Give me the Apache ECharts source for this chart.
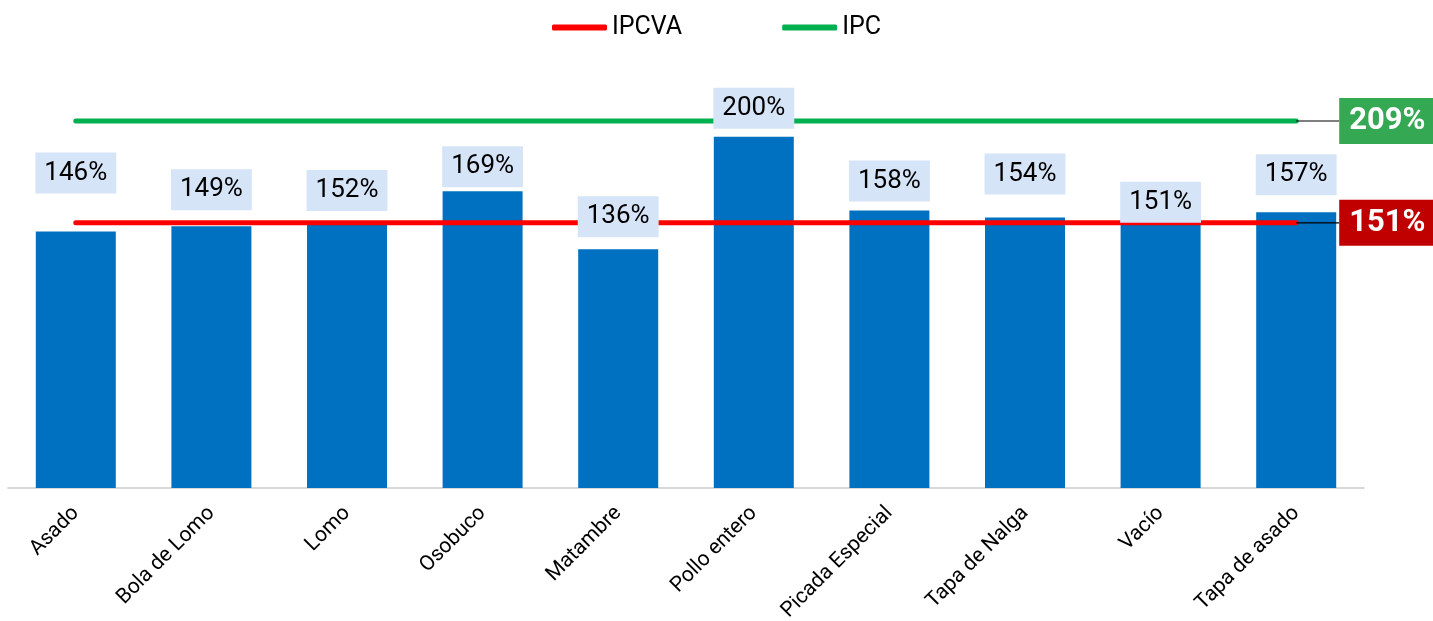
<!DOCTYPE html>
<html>
<head>
<meta charset="utf-8">
<script src="https://cdn.jsdelivr.net/npm/echarts@6/dist/echarts.min.js"></script>
<style>
  html, body { margin: 0; padding: 0; background: #fff; }
  #chart { width: 1433px; height: 621px; }
</style>
</head>
<body>
<div id="chart"></div>
<script>
// categories and values
const categories = ['Asado', 'Bola de Lomo', 'Lomo', 'Osobuco', 'Matambre', 'Pollo entero', 'Picada Especial', 'Tapa de Nalga', 'Vacío', 'Tapa de asado'];
const productValues = [146, 149, 152, 169, 136, 200, 158, 154, 151, 157];
const ipcvaValues = [151, 151, 151, 151, 151, 151, 151, 151, 151, 151];
const ipcValues = [209, 209, 209, 209, 209, 209, 209, 209, 209, 209];

// gap (px) between each bar top and its value box, as placed in the original
const labelGap = [38, 16, 10, 4, 12, 8, 9, 23, 0, 17];

const FONT = 'Roboto';

function endLabel(color) {
  return {
    show: true,
    position: 'right',
    distance: 0,
    formatter: p => p.value + '%',
    color: '#fff',
    fontFamily: FONT,
    fontWeight: 'bold',
    fontSize: 31,
    lineHeight: 34,
    backgroundColor: color,
    padding: [6, 10, 6, 10]
  };
}

function lineData(values, color) {
  return values.map((v, i) => i === values.length - 1
    ? { value: v, label: endLabel(color), labelLine: { show: true, lineStyle: { color: '#000', width: 1.2 } } }
    : v);
}

const chart = echarts.init(document.getElementById('chart'), null, { renderer: 'canvas' });

chart.setOption({
  animation: false,
  legend: {
    data: ['IPCVA', 'IPC'],
    top: 10,
    left: 'center',
    icon: 'roundRect',
    itemWidth: 55,
    itemHeight: 6,
    itemGap: 100,
    textStyle: { fontFamily: FONT, fontSize: 25, color: '#000' }
  },
  grid: { left: 8, right: 69, top: 49, bottom: 133, containLabel: false, outerBoundsMode: 'none' },
  xAxis: {
    type: 'category',
    data: categories,
    axisTick: { show: false },
    axisLine: { lineStyle: { color: '#d9d9d9', width: 2 } },
    axisLabel: {
      interval: 0,
      rotate: 45,
      margin: 22,
      color: '#000',
      fontFamily: FONT,
      fontSize: 21
    }
  },
  yAxis: {
    type: 'value',
    min: 0,
    max: 250,
    show: false,
    splitLine: { show: false }
  },
  series: [
    {
      name: 'Productos',
      type: 'bar',
      data: productValues,
      barWidth: 80,
      z: 1,
      itemStyle: { color: '#0070c0' }
    },
    {
      name: 'IPCVA',
      type: 'line',
      data: lineData(ipcvaValues, '#c00000'),
      symbol: 'circle',
      symbolSize: 0,
      showSymbol: true,
      z: 3,
      color: '#ff0000',
      lineStyle: { width: 5, cap: 'round', color: '#ff0000' },
      labelLayout: { dx: 43 }
    },
    {
      name: 'IPC',
      type: 'line',
      data: lineData(ipcValues, '#34a853'),
      symbol: 'circle',
      symbolSize: 0,
      showSymbol: true,
      z: 3,
      color: '#00b050',
      lineStyle: { width: 5, cap: 'round', color: '#00b050' },
      labelLayout: { dx: 43 }
    },
    {
      // transparent copy of the bars that only carries the value boxes above the lines
      name: 'etiquetas',
      type: 'bar',
      data: productValues.map((v, i) => ({ value: v, label: { offset: [0, -labelGap[i]] } })),
      barWidth: 80,
      barGap: '-100%',
      z: 5,
      silent: true,
      itemStyle: { color: 'rgba(0,0,0,0)' },
      label: {
        show: true,
        position: 'top',
        distance: 0,
        formatter: p => p.value + '%',
        color: '#000',
        fontFamily: FONT,
        fontSize: 26,
        lineHeight: 25,
        backgroundColor: '#d6e4f8',
        padding: [8, 9, 8, 9]
      }
    }
  ]
});
</script>
</body>
</html>
